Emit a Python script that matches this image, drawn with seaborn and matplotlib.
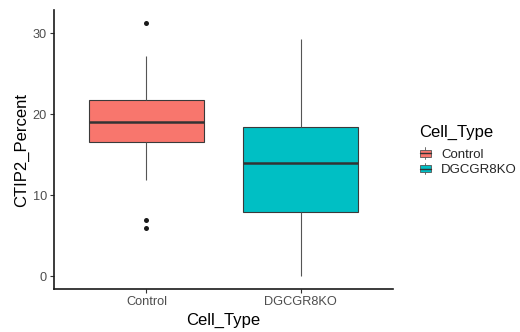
import matplotlib
matplotlib.use("Agg")
import matplotlib.pyplot as plt
import seaborn as sns
import pandas as pd
from matplotlib.patches import Patch, Rectangle
from matplotlib.lines import Line2D
from matplotlib.legend_handler import HandlerBase

# Data (five-number summaries and outliers)
categories = ["Control", "DGCGR8KO"]
colors = ["#F8766D", "#00BFC4"]
control_summary = [11.9, 16.6, 19.0, 21.8, 27.2]     # low whisker, Q1, median, Q3, high whisker
dgcgr8ko_summary = [0.0, 7.9, 13.95, 18.4, 29.3]
control_outliers = [31.3, 6.9, 5.9]
dgcgr8ko_outliers = []
y_ticks = [0, 10, 20, 30]

sns.set_theme(style="white")
plt.rcParams["font.family"] = ["Liberation Sans", "DejaVu Sans"]

box_df = pd.DataFrame({
    "Cell_Type": ["Control"] * len(control_summary) + ["DGCGR8KO"] * len(dgcgr8ko_summary),
    "CTIP2_Percent": control_summary + dgcgr8ko_summary,
})
out_df = pd.DataFrame({
    "Cell_Type": ["Control"] * len(control_outliers) + ["DGCGR8KO"] * len(dgcgr8ko_outliers),
    "CTIP2_Percent": control_outliers + dgcgr8ko_outliers,
})

fig = plt.figure(figsize=(5.2, 3.32), dpi=100)
ax = fig.add_axes([54 / 520, 1 - 289 / 332, (393 - 54) / 520, (289 - 10) / 332])

sns.boxplot(
    data=box_df, x="Cell_Type", y="CTIP2_Percent", hue="Cell_Type",
    order=categories, hue_order=categories, palette=colors,
    width=0.75, whis=1.5, showfliers=False, showcaps=False,
    linecolor="#3a3a3a", linewidth=0.8,
    medianprops={"linewidth": 1.8, "color": "#333333"},
    whiskerprops={"linewidth": 0.8, "color": "#555555"},
    saturation=1, legend=False, ax=ax,
)
sns.stripplot(
    data=out_df, x="Cell_Type", y="CTIP2_Percent", order=categories,
    jitter=False, color="#1a1a1a", size=3.6, linewidth=0, ax=ax, legend=False,
)

ax.set_xlim(-0.6, 1.6)
ax.set_ylim(-1.57, 32.87)
ax.set_yticks(y_ticks)
ax.set_yticklabels([str(t) for t in y_ticks])

for s in ["top", "right"]:
    ax.spines[s].set_visible(False)
for s in ["left", "bottom"]:
    ax.spines[s].set_color("#1a1a1a")
    ax.spines[s].set_linewidth(1.2)

ax.tick_params(axis="both", which="major", length=3, width=0.8, color="#333333",
               labelsize=9.2, labelcolor="#4D4D4D", pad=2, left=True, bottom=True)
ax.set_xlabel("Cell_Type", fontsize=12, color="black", labelpad=3.5)
ax.set_ylabel("CTIP2_Percent", fontsize=12, color="black", labelpad=3)


class HandlerBoxKey(HandlerBase):
    """ggplot-like boxplot legend key: small box with whisker stub and median line."""
    def create_artists(self, legend, orig_handle, xdescent, ydescent,
                       width, height, fontsize, trans):
        fc = orig_handle.get_facecolor()
        cx = -xdescent + width / 2
        whisk = Line2D([cx, cx], [-ydescent - 1.5, -ydescent + height + 1.5],
                       color="#555555", linewidth=0.6, transform=trans)
        rect = Rectangle((-xdescent, -ydescent), width, height, facecolor=fc,
                         edgecolor="#555555", linewidth=0.6, transform=trans)
        med = Line2D([-xdescent, -xdescent + width],
                     [-ydescent + height / 2] * 2,
                     color="#333333", linewidth=1.0, transform=trans)
        return [whisk, rect, med]


handles = [Patch(facecolor=c) for c in colors]
fig.text(419 / 520, 1 - 132 / 332, "Cell_Type", fontsize=12, color="black",
         ha="left", va="center")
leg = fig.legend(
    handles, categories,
    handler_map={Patch: HandlerBoxKey()},
    loc="upper left", bbox_to_anchor=(420 / 520, 1 - 149 / 332),
    frameon=False, fontsize=9.5,
    handlelength=0.8, handleheight=0.5, handletextpad=0.8,
    labelspacing=0.25, borderaxespad=0, borderpad=0,
)

fig.savefig("out.png", dpi=100)
